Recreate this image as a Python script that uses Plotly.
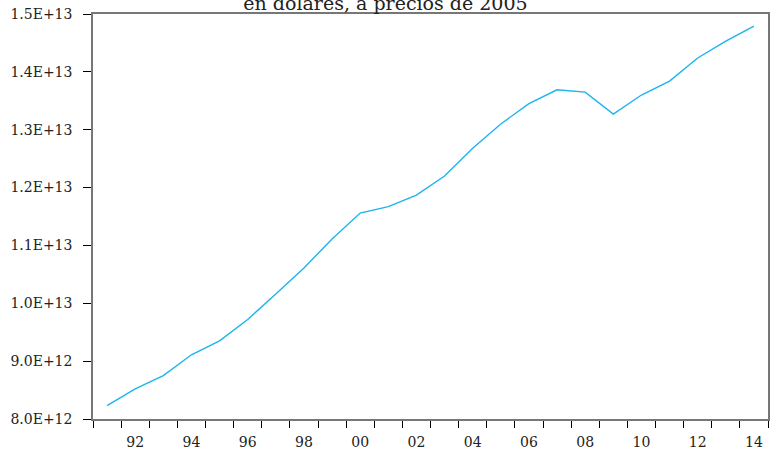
import plotly.graph_objects as go

years = list(range(1991, 2015))
pib = [8.23e12, 8.52e12, 8.75e12, 9.11e12, 9.35e12, 9.72e12, 10.16e12, 10.61e12,
       11.11e12, 11.56e12, 11.67e12, 11.87e12, 12.20e12, 12.68e12, 13.10e12, 13.45e12,
       13.69e12, 13.65e12, 13.27e12, 13.60e12, 13.84e12, 14.24e12, 14.53e12, 14.79e12]

x_tickvals = list(range(1992, 2015, 2))
x_ticktext = ["92", "94", "96", "98", "00", "02", "04", "06", "08", "10", "12", "14"]
y_tickvals = [8.0e12, 9.0e12, 1.0e13, 1.1e13, 1.2e13, 1.3e13, 1.4e13, 1.5e13]
y_ticktext = ["8.0E+12", "9.0E+12", "1.0E+13", "1.1E+13", "1.2E+13", "1.3E+13", "1.4E+13", "1.5E+13"]

title = "en dólares, a precios de 2005"

font = "DejaVu Serif"
frame = "#777777"

fig = go.Figure()
fig.add_scatter(x=years, y=pib, mode="lines",
                line=dict(color="#1cb4ef", width=1.4), showlegend=False)

fig.update_xaxes(range=[1990.5, 2014.5], tickvals=x_tickvals, ticktext=x_ticktext,
                 ticks="outside", ticklen=0, showgrid=False, zeroline=False,
                 showline=True, linecolor=frame, linewidth=1.5, mirror=True,
                 automargin=False,
                 tickfont=dict(family=font, size=14, color="#222"),
                 ticklabelstandoff=9,
                 minor=dict(tick0=1990.5, dtick=1, ticks="outside", ticklen=7,
                            tickcolor="black", tickwidth=1, showgrid=False))
fig.update_yaxes(range=[8.0e12, 1.5e13], tickvals=y_tickvals, ticktext=y_ticktext,
                 ticks="outside", ticklen=8, tickcolor="black", tickwidth=1,
                 showgrid=False, zeroline=False,
                 showline=True, linecolor=frame, linewidth=1.5, mirror=True,
                 automargin=False,
                 tickfont=dict(family=font, size=14, color="#222"),
                 ticklabelstandoff=8)

fig.update_layout(
    width=771, height=455,
    margin=dict(l=93, r=3, t=14, b=36, autoexpand=False),
    plot_bgcolor="white", paper_bgcolor="white",
    title=dict(text=title, x=0.5, xref="container", xanchor="center",
               y=1 - 10 / 455, yref="container", yanchor="bottom",
               font=dict(family=font, size=19, color="#222")),
)

# page body has an 8px default margin; drop it so the figure sits at 0,0
fig.write_html("out.html", config={"displayModeBar": False},
               post_script="document.body.style.margin='0';")
